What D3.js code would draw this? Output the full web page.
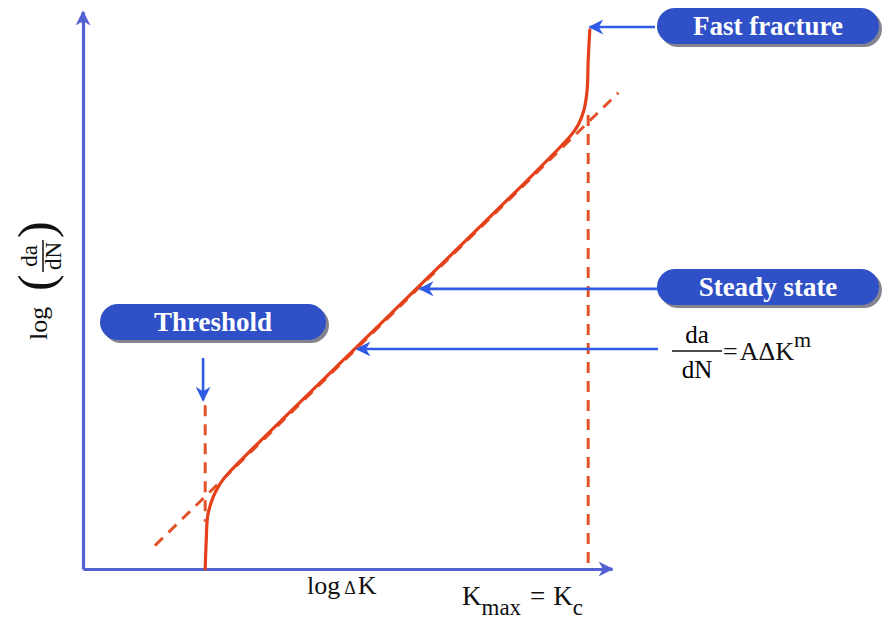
<!DOCTYPE html>
<html>
<head>
<meta charset="utf-8">
<script src="https://cdn.jsdelivr.net/npm/d3@7"></script>
<style>
  html, body { margin: 0; padding: 0; background: #fff; }
  svg { display: block; }
  text { font-family: "Liberation Serif", "DejaVu Serif", serif; }
</style>
</head>
<body>
<svg id="chart" width="885" height="626"></svg>
<script>
// Schematic fatigue crack growth curve, log(da/dN) against log(ΔK), in arbitrary log units
const growthX = [2.31, 2.33, 2.36, 2.46, 2.59, 2.74, 5.99, 9.21, 9.36, 9.47, 9.53, 9.55, 9.58];
const growthY = [0.00, 0.52, 0.97, 1.29, 1.53, 1.71, 4.74, 7.77, 7.97, 8.24, 8.60, 9.14, 9.68];

// Paris-law extrapolation (dashed)
const parisX = [1.36, 10.12];
const parisY = [0.42, 8.55];

// Threshold ΔK_th and critical K_c asymptotes (dashed)
const thresholdX = [2.31, 2.31];
const thresholdY = [2.94, 0.85];
const criticalX = [9.55, 9.55];
const criticalY = [8.15, 0.00];

// Callouts: label, point on the curve they point at
const calloutLabels = ["Fast fracture", "Steady state", "Threshold"];
const calloutX = [9.58, 6.37, 2.27];
const calloutY = [9.73, 5.03, 3.03];
const formulaX = [5.18];
const formulaY = [3.95];

const svg = d3.select("#chart");
const x = d3.scaleLinear().domain([0, 10]).range([83, 612]);
const y = d3.scaleLinear().domain([0, 10]).range([569, 12]);

const axisColor = "#5561d2";
const arrowColor = "#2f5be6";
const curveColor = "#e5401a";
const dashColor = "#e2532a";
const pillColor = "#2f50c6";

// arrowhead markers
const defs = svg.append("defs");
function marker(id, color, w, h) {
  defs.append("marker")
    .attr("id", id).attr("viewBox", "0 0 10 10")
    .attr("refX", 9).attr("refY", 5)
    .attr("markerWidth", w).attr("markerHeight", h)
    .attr("markerUnits", "userSpaceOnUse")
    .attr("orient", "auto")
    .append("path").attr("d", "M0,0 L10,5 L0,10 L3,5 Z").attr("fill", color);
}
marker("axisHead", axisColor, 17, 15);
marker("callHead", arrowColor, 18, 15);

// axes without ticks
const xAxis = svg.append("g").attr("transform", `translate(0,${y(0)})`)
  .call(d3.axisBottom(x).tickValues([]).tickSizeOuter(0));
const yAxis = svg.append("g").attr("transform", `translate(${x(0)},0)`)
  .call(d3.axisLeft(y).tickValues([]).tickSizeOuter(0));
[xAxis, yAxis].forEach(g => g.select(".domain").attr("stroke", axisColor).attr("stroke-width", 3.2));
svg.append("line").attr("x1", x(9.8)).attr("x2", x(10)).attr("y1", y(0)).attr("y2", y(0))
  .attr("stroke", axisColor).attr("stroke-width", 3).attr("marker-end", "url(#axisHead)");
svg.append("line").attr("x1", x(0)).attr("x2", x(0)).attr("y1", y(9.8)).attr("y2", y(10))
  .attr("stroke", axisColor).attr("stroke-width", 3).attr("marker-end", "url(#axisHead)");

// dashed asymptotes
const straight = d3.line().x(d => x(d[0])).y(d => y(d[1]));
function dashed(xs, ys) {
  svg.append("path").datum(d3.zip(xs, ys)).attr("d", straight)
    .attr("fill", "none").attr("stroke", dashColor).attr("stroke-width", 3)
    .attr("stroke-dasharray", "11,8");
}
dashed(parisX, parisY);
dashed(thresholdX, thresholdY);
dashed(criticalX, criticalY);

// growth curve
const smooth = d3.line().x(d => x(d[0])).y(d => y(d[1])).curve(d3.curveCatmullRom.alpha(0.5));
svg.append("path").datum(d3.zip(growthX, growthY)).attr("d", smooth)
  .attr("fill", "none").attr("stroke", curveColor).attr("stroke-width", 3.2)
  .attr("stroke-linejoin", "round").attr("stroke-linecap", "round");

// pill labels
function pill(cx, cy, w, h, label) {
  const g = svg.append("g");
  g.append("rect").attr("x", cx - w / 2 + 3).attr("y", cy - h / 2 + 3)
    .attr("width", w).attr("height", h).attr("rx", h / 2)
    .attr("fill", "#6f6f7c").attr("opacity", 0.85);
  g.append("rect").attr("x", cx - w / 2).attr("y", cy - h / 2)
    .attr("width", w).attr("height", h).attr("rx", h / 2)
    .attr("fill", pillColor);
  g.append("text").attr("x", cx).attr("y", cy + 9)
    .attr("text-anchor", "middle").attr("fill", "#ffffff")
    .attr("font-size", 27).attr("font-weight", "bold")
    .text(label);
}
pill(768, 26, 222, 36, calloutLabels[0]);
pill(768, 287, 222, 36, calloutLabels[1]);
pill(213, 322, 226, 36, calloutLabels[2]);

// callout arrows
function arrow(x1, y1, x2, y2) {
  svg.append("line").attr("x1", x1).attr("y1", y1).attr("x2", x2).attr("y2", y2)
    .attr("stroke", arrowColor).attr("stroke-width", 2.6).attr("marker-end", "url(#callHead)");
}
arrow(655, y(calloutY[0]), x(calloutX[0]), y(calloutY[0]));
arrow(658, y(calloutY[1]), x(calloutX[1]), y(calloutY[1]));
arrow(x(calloutX[2]), 358, x(calloutX[2]), y(calloutY[2]));
arrow(658, y(formulaY[0]), x(formulaX[0]), y(formulaY[0]));

// Paris law formula
const fx = 697;
svg.append("text").attr("x", fx).attr("y", 343).attr("text-anchor", "middle").attr("font-size", 25).text("da");
svg.append("line").attr("x1", 672).attr("x2", 722).attr("y1", 351).attr("y2", 351).attr("stroke", "#111").attr("stroke-width", 1.6);
svg.append("text").attr("x", fx).attr("y", 378).attr("text-anchor", "middle").attr("font-size", 25).text("dN");
const eq = svg.append("text").attr("x", 723).attr("y", 360).attr("font-size", 26).attr("fill", "#111");
eq.append("tspan").text("=");
eq.append("tspan").attr("dx", 2).text("AΔK");
eq.append("tspan").attr("dy", -13).attr("font-size", 22).text("m");

// axis titles
const xt = svg.append("text").attr("x", 307).attr("y", 594).attr("font-size", 26).attr("fill", "#111");
xt.append("tspan").text("log");
xt.append("tspan").attr("font-size", 18).attr("dx", 4).text("Δ");
xt.append("tspan").attr("dx", 2).text("K");

const kt = svg.append("text").attr("x", 462).attr("y", 605).attr("font-size", 27).attr("fill", "#111");
kt.append("tspan").text("K");
kt.append("tspan").attr("font-size", 23).attr("dy", 10).text("max");
kt.append("tspan").attr("dy", -10).attr("dx", 9).text("=");
kt.append("tspan").attr("dx", 8).text("K");
kt.append("tspan").attr("font-size", 23).attr("dy", 10).text("c");

// y title: log (da/dN), rotated
const yt = svg.append("g").attr("transform", "translate(45,280) rotate(-90)").attr("fill", "#111");
yt.append("text").attr("x", -60).attr("y", 2).attr("font-size", 26).text("log");
yt.append("text").attr("x", -11).attr("y", 8).attr("font-size", 50).text("(");
yt.append("text").attr("x", 42).attr("y", 8).attr("font-size", 50).text(")");
yt.append("text").attr("x", 24).attr("y", -8).attr("text-anchor", "middle").attr("font-size", 23).text("da");
yt.append("line").attr("x1", 8).attr("x2", 40).attr("y1", -2).attr("y2", -2).attr("stroke", "#111").attr("stroke-width", 1.5);
yt.append("text").attr("x", 24).attr("y", 16).attr("text-anchor", "middle").attr("font-size", 23).text("dN");
</script>
</body>
</html>
